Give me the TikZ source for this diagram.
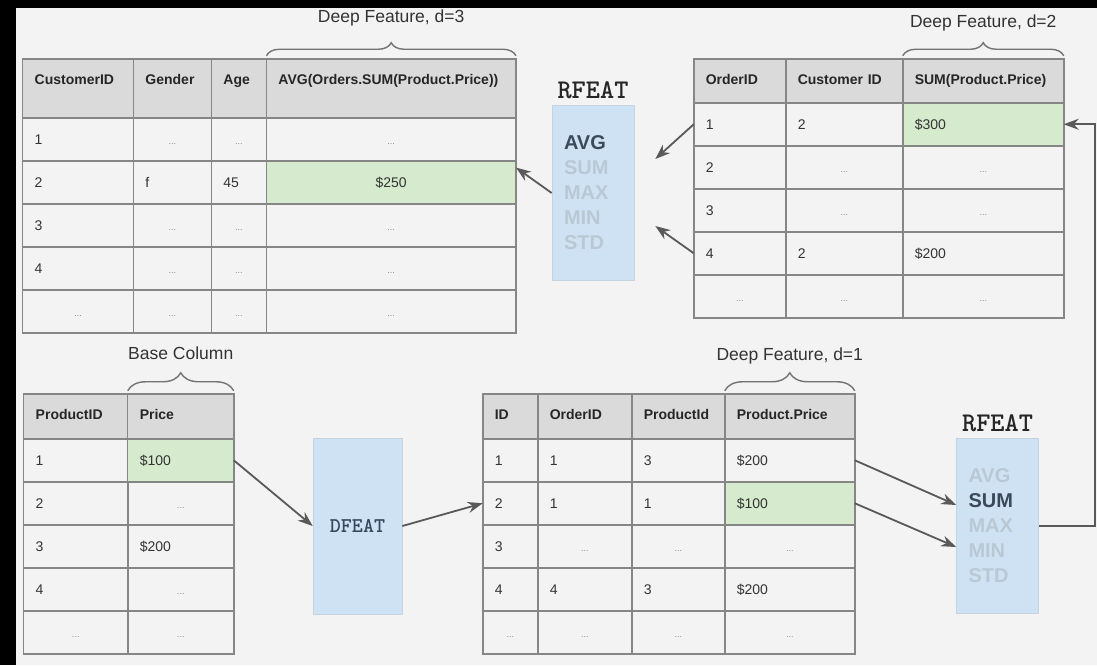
\documentclass[tikz,border=0pt]{standalone}
\usepackage{fontspec}
\setmainfont{Liberation Sans}
\usepackage{tikz}
\usetikzlibrary{arrows.meta, positioning, matrix, decorations.pathreplacing}

\definecolor{paper}{HTML}{F3F3F3}
\definecolor{headgray}{HTML}{DADADA}
\definecolor{rulegray}{HTML}{868686}
\definecolor{hlgreen}{HTML}{D6EBCD}
\definecolor{fnblue}{HTML}{CFE2F3}
\definecolor{fnedge}{HTML}{C3D3E1}
\definecolor{fnink}{HTML}{3B4A5A}
\definecolor{faded}{HTML}{BAC8D4}
\definecolor{dfink}{HTML}{34495F}
\definecolor{ink}{HTML}{333333}
\definecolor{wire}{HTML}{595959}

\newcommand\cellfont{\fontsize{14}{16}\selectfont}
\newcommand\headfont{\fontsize{14}{16}\selectfont\bfseries}
\newcommand\capfont{\fontsize{17.5}{20}\selectfont}
\newcommand\fnfont{\fontsize{20}{25}\selectfont\bfseries}
\newcommand\opfont{\fontsize{27}{29}\selectfont\ttfamily\bfseries}
\newcommand\dfeatfont{\fontsize{21}{24}\selectfont\ttfamily\bfseries}
\newcommand\midcell[1]{\hspace*{\fill}#1\hspace*{\fill}}
\newcommand\etc{\midcell{\textcolor{rulegray}{\fontsize{9}{10}\selectfont...}}}

\tikzset{
>={Stealth[length=15pt,width=11pt]},
cell/.style={%
    rectangle,
    draw=rulegray,
    line width=1.5pt,
    outer sep=0pt,
    inner xsep=12pt,
    inner ysep=0pt,
    align=left,
    text height=26.5pt,
    text depth=16.5pt,
    text=ink,
    % Font
    font=\cellfont
},
head/.style={fill=headgray, text height=26pt, text depth=#1, font=\headfont, text=black!85},
hl/.style={fill=hlgreen},
tbl/.style={matrix of nodes, anchor=north west, inner sep=0pt, outer sep=0pt,
    column sep=-1.5pt, row sep=-1.5pt, nodes={cell}},
braced/.style={decorate, decoration={brace, amplitude=#1}, draw=black!55, line width=1.4pt},
caption/.style={anchor=base, font=\capfont, text=ink},
opbox/.style={rectangle, fill=fnblue, draw=fnedge, line width=0.6pt,
    minimum width=82pt, minimum height=175pt},
fnlist/.style={opbox, align=left, text width=58pt, inner xsep=12pt, font=\fnfont, text=faded},
oplabel/.style={inner sep=0pt, font=\opfont, text=black!85},
arr/.style={->, draw=wire, line width=1.8pt},
backloop/.style={to path={-- ++(#1,0) |- (\tikztotarget)}},
}

\begin{document}
\begin{tikzpicture}[x=1pt, y=-1pt]
\useasboundingbox (0,0) rectangle (1097,665);
\fill[black] (0,0) rectangle (1097,665);
\fill[paper] (16,8) rectangle (1097,665);

% customers
\matrix[tbl, row 1/.style={nodes={head=33.3pt}},
  column 1/.style={nodes={text width=86.7pt}}, column 2/.style={nodes={text width=54pt}},
  column 3/.style={nodes={text width=31pt}}, column 4/.style={nodes={text width=225.5pt}}]
  (cust) at (22,58) {
  CustomerID & Gender & Age & AVG(Orders.SUM(Product.Price)) \\
  1 & \etc & \etc & \etc \\
  2 & f & 45 & |[hl]| \midcell{\$250} \\
  3 & \etc & \etc & \etc \\
  4 & \etc & \etc & \etc \\
  \etc & \etc & \etc & \etc \\
};

% orders
\matrix[tbl, row 1/.style={nodes={head=18pt}},
  column 1/.style={nodes={text width=68pt}}, column 2/.style={nodes={text width=93pt}},
  column 3/.style={nodes={text width=137pt}}]
  (ord) at (693,58) {
  OrderID & Customer ID & SUM(Product.Price) \\
  1 & 2 & |[hl]| \$300 \\
  2 & \etc & \etc \\
  3 & \etc & \etc \\
  4 & 2 & \$200 \\
  \etc & \etc & \etc \\
};

% products
\matrix[tbl, row 1/.style={nodes={head=19pt}},
  column 1/.style={nodes={text width=80pt}}, column 2/.style={nodes={text width=82pt}}]
  (prod) at (23,393) {
  ProductID & Price \\
  1 & |[hl]| \$100 \\
  2 & \etc \\
  3 & \$200 \\
  4 & \etc \\
  \etc & \etc \\
};

% order items
\matrix[tbl, row 1/.style={nodes={head=19pt}},
  column 1/.style={nodes={text width=31pt}}, column 2/.style={nodes={text width=70pt}},
  column 3/.style={nodes={text width=69pt}}, column 4/.style={nodes={text width=106pt}}]
  (item) at (482,393) {
  ID & OrderID & ProductId & Product.Price \\
  1 & 1 & 3 & \$200 \\
  2 & 1 & 1 & |[hl]| \$100 \\
  3 & \etc & \etc & \etc \\
  4 & 4 & 3 & \$200 \\
  \etc & \etc & \etc & \etc \\
};

\draw[braced=13pt] ([yshift=3pt]cust-1-4.north west) -- ([yshift=3pt]cust-1-4.north east);
\node[caption] (cap-d3) at ([yshift=36pt]cust-1-4.north) {Deep Feature, d=3};
\draw[braced=13pt] ([yshift=3pt]ord-1-3.north west) -- ([yshift=3pt]ord-1-3.north east);
\node[caption] (cap-d2) at ([yshift=31pt]ord-1-3.north) {Deep Feature, d=2};
\draw[braced=18pt] ([yshift=3pt]prod-1-2.north west) -- ([yshift=3pt]prod-1-2.north east);
\node[caption] (cap-base) at ([yshift=34pt]prod-1-2.north) {Base Column};
\draw[braced=18pt] ([yshift=3pt]item-1-4.north west) -- ([yshift=3pt]item-1-4.north east);
\node[caption] (cap-d1) at ([yshift=33pt]item-1-4.north) {Deep Feature, d=1};

% feature primitives
\node[fnlist] (rfeatA) at (593,193) {\textcolor{fnink}{AVG}\\SUM\\MAX\\MIN\\STD};
\node[oplabel, above=6pt of rfeatA] (rfeatA-name) {RFEAT};
\node[fnlist] (rfeatB) at (997.5,526) {AVG\\\textcolor{fnink}{SUM}\\MAX\\MIN\\STD};
\node[oplabel, above=6pt of rfeatB] (rfeatB-name) {RFEAT};
\node[opbox, minimum width=89pt, minimum height=176pt, font=\dfeatfont, text=dfink] (dfeat) at (357.5,526) {DFEAT};

\draw[arr] (prod-2-2.east) -- (dfeat.west);
\draw[arr] (dfeat.east) -- (item-3-1.west);
\draw[arr] (item-2-4.east) -- ([yshift=21pt]rfeatB.west);
\draw[arr] (item-3-4.east) -- ([yshift=-21pt]rfeatB.west);
\draw[arr] (rfeatB.east) to[backloop=56] (ord-2-3.east);
\draw[arr] (ord-2-1.west) -- ([xshift=21pt,yshift=34pt]rfeatA.east);
\draw[arr] (ord-5-1.west) -- ([xshift=21pt,yshift=-33pt]rfeatA.east);
\draw[arr] (rfeatA.west) -- ([yshift=15pt]cust-3-4.east);
\end{tikzpicture}
\end{document}
